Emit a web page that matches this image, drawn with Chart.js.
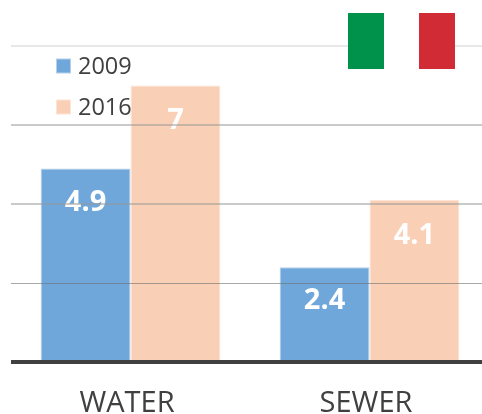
<!DOCTYPE html>
<html>
<head>
<meta charset="utf-8">
<style>
html,body{margin:0;padding:0;background:#fff;width:482px;height:414px;overflow:hidden}
canvas{display:block}
</style>
<script src="https://cdn.jsdelivr.net/npm/chart.js@4"></script>
</head>
<body>
<canvas id="c" width="489" height="414" style="width:489px;height:414px"></canvas>
<script>
const categories = ["WATER", "SEWER"];
const series2009 = [4.9, 2.4];
const series2016 = [7, 4.1];
const seriesNames = ["2009", "2016"];
const valueLabels2016 = ["7", "4.1"];

const FONT = '"Open Sans", sans-serif';
const BLUE = "#70a7da", PEACH = "#f9d0b6";

const overlay = {
  id: "overlay",
  afterDatasetsDraw(chart) {
    const ctx = chart.ctx;
    ctx.save();
    ctx.textAlign = "center";
    ctx.textBaseline = "middle";
    ctx.fillStyle = "#ffffff";
    ctx.font = 'bold 29px ' + FONT;
    chart.data.datasets.forEach((ds, d) => {
      chart.getDatasetMeta(d).data.forEach((bar, i) => {
        const txt = d === 1 ? valueLabels2016[i] : String(ds.data[i]);
        ctx.fillText(txt, bar.x, bar.y + (d === 1 ? 35.5 : 34));
      });
    });
    ctx.restore();
  },
  afterDraw(chart) {
    const ctx = chart.ctx;
    ctx.save();
    // legend
    const rows = [66, 107];
    ctx.font = '23.5px ' + FONT;
    ctx.textAlign = "left";
    ctx.textBaseline = "middle";
    chart.data.datasets.forEach((ds, d) => {
      ctx.fillStyle = ds.backgroundColor;
      ctx.fillRect(56.5, rows[d] - 7, 14, 14);
      ctx.strokeStyle = ds.borderColor;
      ctx.lineWidth = 1;
      ctx.strokeRect(56.5, rows[d] - 7, 14, 14);
      ctx.fillStyle = "#404040";
      ctx.fillText(ds.label, 78, rows[d] + 1.5);
    });
    // flag of Italy
    ctx.fillStyle = "#00924a"; ctx.fillRect(348, 13, 36, 56);
    ctx.fillStyle = "#ffffff"; ctx.fillRect(384, 13, 35, 56);
    ctx.fillStyle = "#d12b36"; ctx.fillRect(419, 13, 36, 56);
    ctx.restore();
  }
};

const gridColor = v => v === 0 ? "#404040" : v === 2 ? "rgba(110,110,110,0.6)" : v === 8 ? "#e8e8e8" : "rgba(150,150,150,0.5)";

new Chart(document.getElementById("c"), {
  type: "bar",
  data: {
    labels: categories,
    datasets: [
      { label: seriesNames[0], data: series2009, backgroundColor: BLUE, borderColor: "#b4d0ea", borderWidth: 1 },
      { label: seriesNames[1], data: series2016, backgroundColor: PEACH, borderColor: "#fce4d6", borderWidth: 1 }
    ]
  },
  options: {
    responsive: false,
    animation: false,
    layout: { padding: { left: 11, top: 46, right: 0, bottom: 0 } },
    plugins: { legend: { display: false }, tooltip: { enabled: false } },
    datasets: { bar: { barPercentage: 1, categoryPercentage: 0.752 } },
    scales: {
      x: {
        grid: { display: false },
        border: { display: false },
        afterFit(s) { s.height = 52; },
        ticks: { color: "#404040", font: { family: FONT, size: 29 }, padding: 16, maxRotation: 0, labelOffset: -3.5 }
      },
      y: {
        min: 0, max: 8,
        afterFit(s) { s.width = 0; },
        border: { display: false },
        grid: {
          z: 1,
          drawTicks: false,
          color: c => gridColor(c.tick.value),
          lineWidth: c => c.tick.value === 0 ? 4 : c.tick.value === 2 ? 1 : 2
        },
        ticks: { display: false, stepSize: 2 }
      }
    }
  },
  plugins: [overlay]
});
</script>
</body>
</html>
